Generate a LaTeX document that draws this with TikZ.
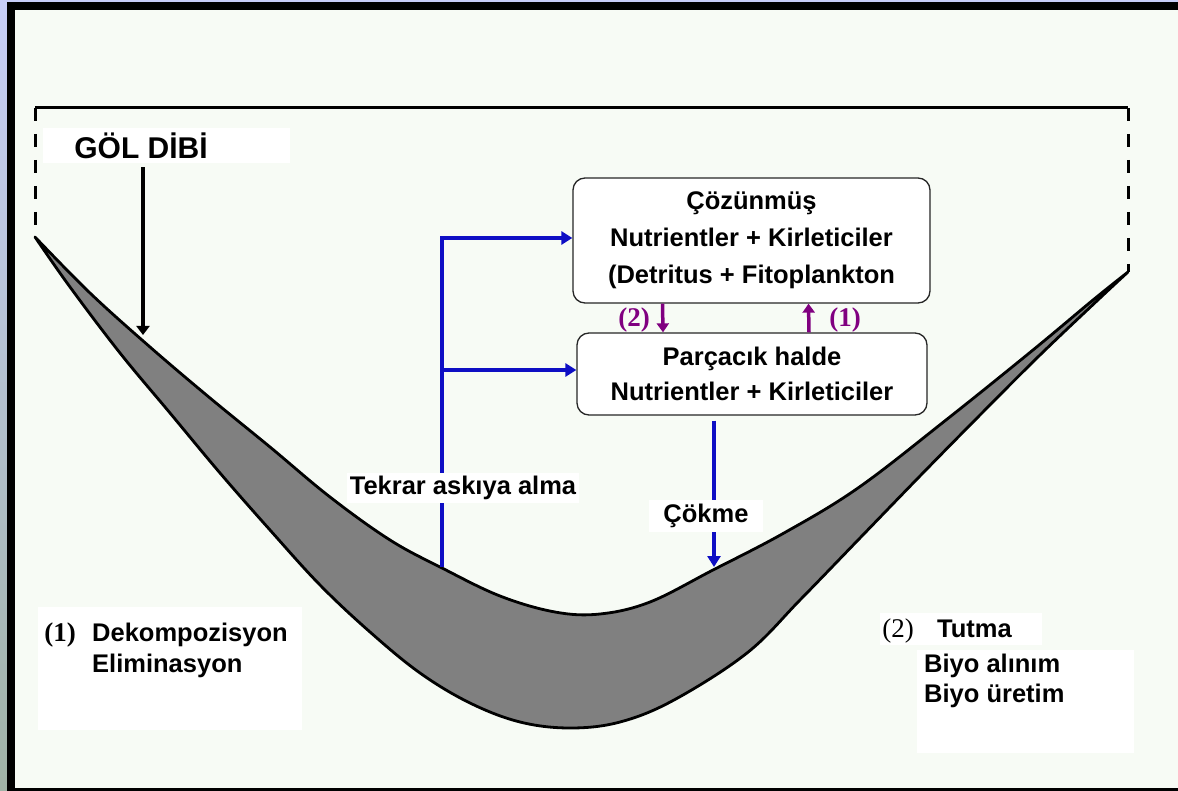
\documentclass[tikz,border=0pt]{standalone}
\usepackage{fontspec}
\setmainfont{Liberation Sans}
\newfontfamily\numfont{Liberation Serif}
\usetikzlibrary{arrows.meta,positioning}
\definecolor{bgwhite}{RGB}{247,251,245}
\definecolor{lakegray}{RGB}{128,128,128}
\definecolor{flowblue}{RGB}{14,14,196}
\definecolor{flowpurple}{RGB}{128,0,128}
\definecolor{edgelilac}{RGB}{200,206,248}
\definecolor{edgesage}{RGB}{160,178,166}
\newcommand{\bodyfont}{\fontsize{25.5}{34}\selectfont\bfseries}

\begin{document}
\begin{tikzpicture}[x=1pt,y=-1pt,
  pool/.style={draw=black!85, line width=1.3pt, rounded corners=12pt, fill=white, align=center, font=\bodyfont},
  lbl/.style={font=\bodyfont, inner sep=0pt},
  numlbl/.style={font=\numfont\fontsize{27}{30}\selectfont\bfseries, inner sep=0pt},
  blueflow/.style={flowblue, line width=4pt},
  bluetip/.style={blueflow, -{Triangle[length=11pt,width=13pt]}},
  purpletip/.style={flowpurple, line width=3.5pt, -{Triangle[length=9pt,width=12pt]}},
  rimline/.style={line width=3pt},
]
\useasboundingbox (0,0) rectangle (1178,791);
% frame
\fill[bgwhite] (0,0) rectangle (1178,791);
\shade[top color=edgelilac, bottom color=edgesage] (0,0) rectangle (7,791);
\fill[edgelilac] (7,0) rectangle (1178,2);
\fill[black] (7,2) rectangle (15,791);
\fill[black] (7,2) rectangle (1178,10);
\fill[black] (7,788) rectangle (1178,791);
% white patches behind the texts
\fill[white] (43,128) rectangle (290,163);
\fill[white] (38,607) rectangle (302,730);
\fill[white] (880,613) rectangle (1042,645);
\fill[white] (917,650) rectangle (1134,753);
% lake rim
\coordinate (lt) at (35,108);
\coordinate (lb) at (35,237);
\coordinate (rt) at (1128,108);
\coordinate (rb) at (1128,272);
\draw[rimline] (lt) -- (rt);
\draw[rimline, dash pattern=on 13pt off 13pt] (lt) -- (lb);
\draw[rimline, dash pattern=on 13pt off 13pt] (rt) -- (rb);
% sediment layer
\filldraw[fill=lakegray, draw=black, line width=2.8pt, line join=round]
  plot[smooth, tension=0.6] coordinates {(35,237) (70,287) (120,353) (170,413) (220,473) (270,530) (320,585) (370,632) (420,673) (470,703) (520,722) (570,728) (620,722) (674,700) (747,653) (800,600) (860,538) (920,476) (980,415) (1040,355) (1100,298) (1128,272)}
  -- plot[smooth, tension=0.6] coordinates {(1128,272) (1093,300) (1033,350) (946,420) (858,488) (784,533) (713,570) (650,602) (600,614) (555,612) (500,596) (442,568) (390,540) (330,497) (270,447) (210,398) (150,347) (90,293) (35,237)}
  -- cycle;
% lake bottom label
\node[lbl, font=\fontsize{30}{34}\selectfont\bfseries] (goldibi) at (141,146) {GÖL DİBİ};
\coordinate (golfoot) at (143,335);
\draw[line width=3.5pt, -{Triangle[length=9pt,width=13pt]}, shorten <=8pt] (goldibi.south -| golfoot) -- (golfoot);
% pools
\node[pool, minimum width=357pt, minimum height=125pt, font=\fontsize{25.5}{37}\selectfont\bfseries] (cozunmus) at (751.5,240.5)
  {Çözünmüş\\Nutrientler + Kirleticiler\\(Detritus + Fitoplankton};
\node[pool, minimum width=350pt, minimum height=82pt, font=\fontsize{25.5}{35}\selectfont\bfseries] (parcacik) at (752,374)
  {Parçacık halde\\Nutrientler + Kirleticiler};
% exchange between pools
\draw[purpletip] ([xshift=-89pt]cozunmus.south) -- ([xshift=-89pt]parcacik.north);
\draw[purpletip] ([xshift=57pt]parcacik.north) -- ([xshift=57pt]cozunmus.south);
\node[numlbl, text=flowpurple] (pur2) at (634,320) {(2)};
\node[numlbl, text=flowpurple] (pur1) at (845,320) {(1)};
% resuspension
\coordinate (jtop) at (442,238);
\coordinate (jmid) at (442,370);
\coordinate (tfoot) at (442,567);
\node[lbl, fill=white, inner sep=3pt] (tekrar) at (463,488) {Tekrar askıya alma};
\draw[bluetip] (tekrar.north -| jtop) -- (jtop) -- (jtop -| cozunmus.west);
\draw[bluetip] (jmid) -- (jmid -| parcacik.west);
\draw[blueflow] (tekrar.south -| tfoot) -- (tfoot);
% settling
\coordinate (cfoot) at (714,567);
\node[lbl, fill=white, inner xsep=14pt, inner ysep=4pt] (cokme) at (706,516) {Çökme};
\draw[blueflow] ([xshift=-38pt,yshift=-5pt]parcacik.south) -- (cokme.north -| cfoot);
\draw[bluetip] (cokme.south -| cfoot) -- (cfoot);
% processes
\node[numlbl] (num1) at (60,635) {(1)};
\node[lbl, anchor=west] (dekomp) at (92,635) {Dekompozisyon};
\node[lbl, anchor=west] (elimin) at (92,666) {Eliminasyon};
\node[numlbl, font=\numfont\fontsize{27}{30}\selectfont] (num2) at (898,631) {(2)};
\node[lbl, anchor=west] (tutma) at (937,629) {Tutma};
\node[lbl, anchor=west] (biyoal) at (924,666) {Biyo alınım};
\node[lbl, anchor=west] (biyour) at (924,696) {Biyo üretim};
\end{tikzpicture}
\end{document}
